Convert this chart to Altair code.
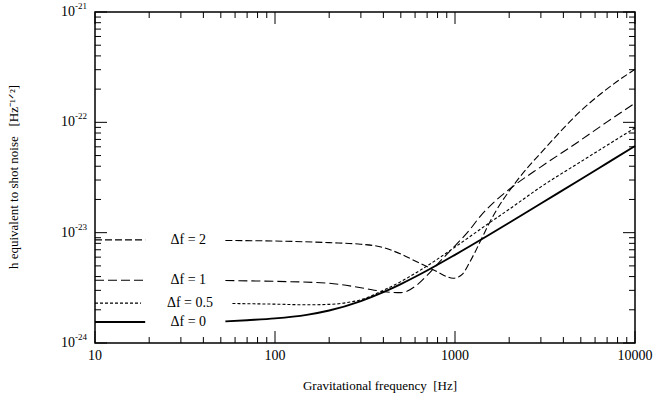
import altair as alt
import pandas as pd

UNIT = 1e-24  # values below are in units of 1e-24 Hz^-1/2

# Δf = 0 (solid)
f0 = [10, 19, 53, 70, 100, 150, 200, 300, 400, 500, 700, 1000, 1500, 2000, 3000, 5000, 7000, 10000]
h0 = [1.55, 1.55, 1.57, 1.61, 1.67, 1.80, 1.97, 2.40, 2.89, 3.42, 4.54, 6.30, 9.28, 12.3, 18.4, 30.5, 42.7, 61.0]

# Δf = 0.5 (short dashes)
f05 = [10, 18, 58, 100, 150, 200, 250, 300, 400, 500, 700, 1000, 1500, 2000, 3000, 5000, 7000, 10000]
h05 = [2.3, 2.3, 2.28, 2.25, 2.22, 2.24, 2.32, 2.47, 3.0, 3.6, 5.0, 7.4, 11.8, 16.3, 26, 44, 62, 89]

# Δf = 1
f1 = [10, 19, 53, 100, 200, 300, 420, 500, 615, 700, 800, 1000, 1200, 1377, 1700, 2154, 3000, 4945, 7000, 10000]
h1 = [3.7, 3.7, 3.68, 3.62, 3.48, 3.17, 2.9, 2.86, 3.36, 4.1, 5.2, 7.6, 10.5, 14.0, 19.8, 27.1, 39.5, 68.2, 101, 149]

# Δf = 2
f2 = [10, 19, 53, 100, 200, 300, 383, 500, 585, 795, 900, 975, 1050, 1100, 1200, 1300, 1400, 1550, 1700, 2154, 3228, 4945, 6966, 10000]
h2 = [8.6, 8.6, 8.5, 8.4, 8.12, 7.85, 7.46, 6.4, 5.66, 4.43, 4.0, 3.86, 3.98, 4.2, 5.3, 6.8, 8.7, 12.2, 16.0, 28.0, 60.2, 125, 200, 303]

labels = ["Δf = 2", "Δf = 1", "Δf = 0.5", "Δf = 0"]
label_levels = [8.6, 3.7, 2.3, 1.55]
label_freq = [33, 33, 33.7, 33]
gap_lo = [19, 19, 18, 19]
gap_hi = [53, 53, 58, 53]

x_major = [10, 100, 1000, 10000]
x_tick_labels = ["10", "100", "1000", "10000"]
x_minor = [m * 10 ** e for e in range(1, 4) for m in range(2, 10)]
y_major = [1e-24, 1e-23, 1e-22, 1e-21]
y_exponents = ["-24", "-23", "-22", "-21"]
y_minor = [m * 10.0 ** e for e in range(-24, -21) for m in range(2, 10)]

x_title = "Gravitational frequency\u00a0\u00a0[Hz]"
y_title = "h equivalent to shot noise\u00a0\u00a0\u00a0[Hz⁻¹ᐟ²]"

FONT = "Liberation Serif"
W, H = 540, 331
MAJOR, MINOR = 12, 6


def curve_df(fs, hs, lo, hi):
    rows = []
    for f, h in zip(fs, hs):
        if f <= lo:
            rows.append({"f": f, "h": h * UNIT, "seg": "a"})
        elif f >= hi:
            rows.append({"f": f, "h": h * UNIT, "seg": "b"})
    return pd.DataFrame(rows)


xs = alt.Scale(type="log", domain=[10, 10000], nice=False)
ys = alt.Scale(type="log", domain=[1e-24, 1e-21], nice=False)


def line(df, width, dash=None):
    kw = dict(color="black", strokeWidth=width, interpolate="monotone")
    if dash:
        kw["strokeDash"] = dash
    return alt.Chart(df).mark_line(**kw).encode(
        x=alt.X("f:Q", scale=xs, axis=None),
        y=alt.Y("h:Q", scale=ys, axis=None),
        detail="seg:N",
    )


def x_ticks(vals, length, edge):
    base = H if edge == "bottom" else 0
    tip = base - length if edge == "bottom" else length
    return alt.Chart(pd.DataFrame({"xv": vals})).mark_rule(color="black", strokeWidth=1).encode(
        x=alt.X("xv:Q", scale=xs, axis=None), y=alt.value(base), y2=alt.value(tip))


def y_ticks(vals, length, edge):
    base = 0 if edge == "left" else W
    tip = length if edge == "left" else W - length
    return alt.Chart(pd.DataFrame({"yv": vals})).mark_rule(color="black", strokeWidth=1).encode(
        y=alt.Y("yv:Q", scale=ys, axis=None), x=alt.value(base), x2=alt.value(tip))


d0 = curve_df(f0, h0, gap_lo[3], gap_hi[3])
d05 = curve_df(f05, h05, gap_lo[2], gap_hi[2])
d1 = curve_df(f1, h1, gap_lo[1], gap_hi[1])
d2 = curve_df(f2, h2, gap_lo[0], gap_hi[0])

l0 = line(d0, 1.9)
l05 = line(d05, 1.1, [3, 2])
l1 = line(d1, 1.1, [9, 4])
l2 = line(d2, 1.1, [7, 3])

lab_df = pd.DataFrame({"t": labels, "f": label_freq, "h": [v * UNIT for v in label_levels]})
txt = alt.Chart(lab_df).mark_text(font=FONT, fontSize=14, color="black", baseline="middle",
                                  align="center").encode(
    x=alt.X("f:Q", scale=xs, axis=None),
    y=alt.Y("h:Q", scale=ys, axis=None),
    text="t:N",
)

xl_df = pd.DataFrame({"v": x_major, "t": x_tick_labels})
x_labels = alt.Chart(xl_df).mark_text(font=FONT, fontSize=14, color="black", baseline="middle",
                                      align="center").encode(
    x=alt.X("v:Q", scale=xs, axis=None), y=alt.value(H + 13), text="t:N")

yl_df = pd.DataFrame({"v": y_major, "base": ["10"] * 4, "exp": y_exponents})
y_labels = alt.Chart(yl_df).mark_text(font=FONT, fontSize=14, color="black", baseline="middle",
                                      align="right").encode(
    y=alt.Y("v:Q", scale=ys, axis=None), x=alt.value(-20), text="base:N")
y_exps = alt.Chart(yl_df).mark_text(font=FONT, fontSize=9, color="black", baseline="middle",
                                    align="left", dy=-6).encode(
    y=alt.Y("v:Q", scale=ys, axis=None), x=alt.value(-20), text="exp:N")

xt = alt.Chart(pd.DataFrame({"t": [x_title]})).mark_text(
    font=FONT, fontSize=13, color="black", baseline="middle", align="center").encode(
    x=alt.value(285), y=alt.value(374), text="t:N")
yt = alt.Chart(pd.DataFrame({"t": [y_title]})).mark_text(
    font=FONT, fontSize=13, color="black", baseline="middle", align="center", angle=270).encode(
    x=alt.value(-81), y=alt.value(165), text="t:N")

tick_layer = alt.layer(
    x_ticks(x_major, MAJOR, "bottom"), x_ticks(x_minor, MINOR, "bottom"),
    x_ticks(x_major, MAJOR, "top"), x_ticks(x_minor, MINOR, "top"),
    y_ticks(y_major, MAJOR, "left"), y_ticks(y_minor, MINOR, "left"),
    y_ticks(y_major, MAJOR, "right"), y_ticks(y_minor, MINOR, "right"),
)
curve_layer = alt.layer(l0, l05, l1, l2, txt)
text_layer = alt.layer(x_labels, y_labels, y_exps, xt, yt)

chart = alt.layer(tick_layer, curve_layer, text_layer).properties(
    width=W, height=H,
    autosize=alt.AutoSizeParams(type="none"),
    padding={"left": 95, "top": 12, "right": 19, "bottom": 57},
    background="white",
).configure_view(stroke="black", strokeWidth=1.5)

chart.save("out.html", embed_options={"renderer": "svg", "actions": False})
